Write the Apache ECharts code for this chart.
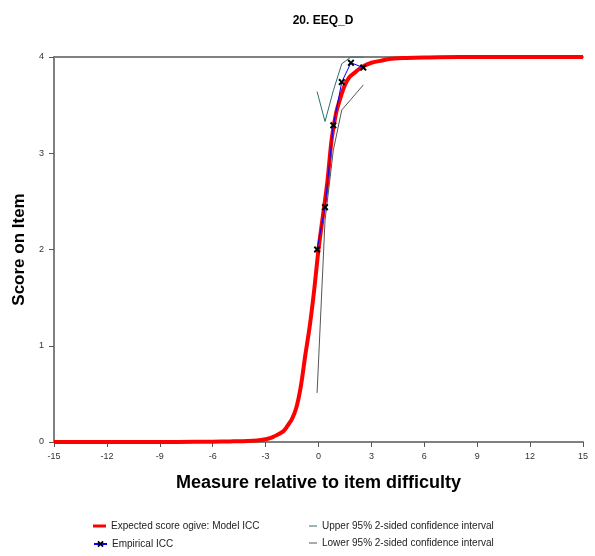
<!DOCTYPE html>
<html><head><meta charset="utf-8">
<script src="https://cdn.jsdelivr.net/npm/echarts@6/dist/echarts.min.js"></script>
<style>html,body{margin:0;padding:0;background:#fff}#c{width:595px;height:556px}</style>
</head><body><div id="c"></div>
<script>
// Model ICC (expected score ogive)
const modelX = [-15, -8, -6, -5, -4, -3.5, -3, -2.75, -2.5, -2, -1.75, -1.5, -1.25, -1, -0.75, -0.5, -0.25, 0, 0.25, 0.5, 0.75, 1, 1.25, 1.5, 1.75, 2, 2.5, 3, 3.5, 4, 5, 6, 8, 15];
const modelY = [0, 0.001, 0.003, 0.006, 0.01, 0.015, 0.028, 0.04, 0.06, 0.11, 0.17, 0.24, 0.36, 0.58, 0.9, 1.2, 1.57, 2.0, 2.35, 2.7, 3.15, 3.42, 3.58, 3.71, 3.79, 3.83, 3.9, 3.94, 3.96, 3.98, 3.99, 3.995, 4.0, 4.0];
// Empirical ICC
const empX = [-0.08, 0.37, 0.84, 1.32, 1.84, 2.54];
const empY = [2.0, 2.44, 3.29, 3.74, 3.94, 3.89];
// Confidence intervals
const upperY = [3.64, 3.33, 3.65, 3.93, 4.0, 4.0];
const lowerY = [0.51, 2.3, 3.03, 3.45, 3.56, 3.71];
const xTicks = [-15, 15, 3];
const yTicks = [0, 4, 1];

const pair = (xs, ys) => xs.map((x, i) => [x, ys[i]]);
const FONT = 'Liberation Sans';
const crossPath = 'path://M2,0 L5,3 L8,0 L10,2 L7,5 L10,8 L8,10 L5,7 L2,10 L0,8 L3,5 L0,2 Z';
const legText = { fontFamily: FONT, fontSize: 10, color: '#222' };

const chart = echarts.init(document.getElementById('c'));
chart.setOption({
  animation: false,
  backgroundColor: '#fff',
  textStyle: { fontFamily: FONT },
  title: {
    text: '20. EEQ_D', left: 318, top: 10, textAlign: 'center',
    textStyle: { fontFamily: FONT, fontSize: 12, fontWeight: 'bold', color: '#000' }
  },
  legend: [
    {
      left: 93, top: 521, orient: 'vertical', itemWidth: 13, itemHeight: 3, padding: 0,
      data: [{ name: 'Expected score ogive: Model ICC', icon: 'rect' }],
      textStyle: legText
    },
    {
      left: 93, top: 539, orient: 'vertical', itemWidth: 13, itemHeight: 8, padding: 0,
      data: ['Empirical ICC'],
      textStyle: legText
    },
    {
      left: 309, top: 521, orient: 'vertical', itemGap: 7, itemWidth: 8, itemHeight: 1, padding: 0,
      data: [{ name: 'Upper 95% 2-sided confidence interval', icon: 'rect' },
             { name: 'Lower 95% 2-sided confidence interval', icon: 'rect' }],
      textStyle: legText
    }
  ],
  grid: { left: 54, right: 12, top: 57, bottom: 114 },
  xAxis: [{
    type: 'value', min: xTicks[0], max: xTicks[1], interval: xTicks[2],
    name: 'Measure relative to item difficulty', nameLocation: 'middle', nameGap: 32,
    nameTextStyle: { fontFamily: FONT, fontSize: 18, fontWeight: 'bold', color: '#000' },
    axisLine: { onZero: false, lineStyle: { color: '#808080', width: 2 } },
    axisTick: { show: true, length: 5, lineStyle: { color: '#555', width: 1 } },
    axisLabel: { fontSize: 9, color: '#333', margin: 10 },
    splitLine: { show: false }
  }, {
    type: 'value', position: 'top', min: xTicks[0], max: xTicks[1],
    axisLine: { show: true, onZero: false, lineStyle: { color: '#808080', width: 2 } },
    axisTick: { show: false }, axisLabel: { show: false }, splitLine: { show: false }
  }],
  yAxis: {
    type: 'value', min: yTicks[0], max: yTicks[1], interval: yTicks[2],
    name: 'Score on Item', nameLocation: 'middle', nameGap: 24,
    nameTextStyle: { fontFamily: FONT, fontSize: 17, fontWeight: 'bold', color: '#000' },
    axisLine: { show: true, onZero: false, lineStyle: { color: '#808080', width: 2 } },
    axisTick: { show: true, length: 5, lineStyle: { color: '#555', width: 1 } },
    axisLabel: { fontSize: 9, color: '#333', margin: 10 },
    splitLine: { show: false }
  },
  series: [
    {
      name: 'Expected score ogive: Model ICC', type: 'line', data: pair(modelX, modelY),
      smooth: 0.3, showSymbol: false, symbol: 'none',
      lineStyle: { color: '#ff0000', width: 4 }, itemStyle: { color: '#ff0000' }, z: 2
    },
    {
      name: 'Upper 95% 2-sided confidence interval', type: 'line', data: pair(empX, upperY),
      showSymbol: false, symbol: 'none',
      lineStyle: { color: '#2f6f70', width: 1 }, itemStyle: { color: '#2f6f70' }, z: 3
    },
    {
      name: 'Lower 95% 2-sided confidence interval', type: 'line', data: pair(empX, lowerY),
      showSymbol: false, symbol: 'none',
      lineStyle: { color: '#555555', width: 1 }, itemStyle: { color: '#555555' }, z: 3
    },
    {
      name: 'Empirical ICC', type: 'line', data: pair(empX, empY),
      symbol: crossPath, symbolSize: 7, showSymbol: true,
      lineStyle: { color: '#0000ff', width: 1 }, itemStyle: { color: '#000' }, z: 4
    }
  ]
});
</script></body></html>
